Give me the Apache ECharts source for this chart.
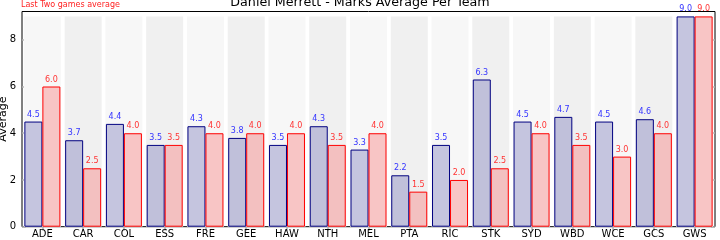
<!DOCTYPE html>
<html>
<head>
<meta charset="utf-8">
<script src="https://cdn.jsdelivr.net/npm/echarts@6/dist/echarts.min.js"></script>
<style>html,body{margin:0;padding:0;background:#fff}#c{width:720px;height:240px}</style>
</head>
<body>
<div id="c"></div>
<script>
const categories = ['ADE','CAR','COL','ESS','FRE','GEE','HAW','NTH','MEL','PTA','RIC','STK','SYD','WBD','WCE','GCS','GWS'];
const seasonAvg = [4.5,3.7,4.4,3.5,4.3,3.8,3.5,4.3,3.3,2.2,3.5,6.3,4.5,4.7,4.5,4.6,9.0];
const lastTwoAvg = [6.0,2.5,4.0,3.5,4.0,4.0,4.0,3.5,4.0,1.5,2.0,2.5,4.0,3.5,3.0,4.0,9.0];
const yTicks = [0,2,4,6,8];
const titleText = 'Daniel Merrett - Marks Average Per Team';
const noteText = 'Last Two games average';
const yName = 'Average';

const bandMax = Math.max(...seasonAvg, ...lastTwoAvg);
const bandData = categories.map((c,i)=>({value: bandMax, itemStyle:{color: i%2===0 ? '#f7f7f7' : '#f0f0f0'}}));

const font = 'DejaVu Sans';
const chart = echarts.init(document.getElementById('c'), null, {renderer:'canvas'});
const tickStyle = {show:true, inside:true, length:4, lineStyle:{color:'#b0b0b0', width:1.5}};
chart.setOption({
  animation:false,
  backgroundColor:'#fff',
  title:[
    {text:titleText, left:'center', top:-3.5, padding:0, textStyle:{fontFamily:font, fontSize:12.7, fontWeight:'normal', color:'#000'}},
    {text:noteText, left:21, top:1, padding:0, textStyle:{fontFamily:font, fontSize:8, fontWeight:'normal', color:'#ff2020'}}
  ],
  grid:{left:22, right:5, top:11.5, bottom:13.3, containLabel:false, outerBoundsMode:'none', show:true, borderColor:'#000', borderWidth:1, backgroundColor:'#fff'},
  xAxis:[
    {type:'category', data:categories, position:'bottom', axisLine:{show:false},
     axisTick:Object.assign({alignWithLabel:true}, tickStyle),
     axisLabel:{fontFamily:font, fontSize:10, color:'#000', margin:3}},
    {type:'category', data:categories, position:'top', axisLine:{show:false},
     axisTick:Object.assign({alignWithLabel:true}, tickStyle),
     axisLabel:{show:false}}
  ],
  yAxis:[
    {type:'value', min:0, max:9.21, interval:2, position:'left', axisLine:{show:false}, splitLine:{show:false},
     axisTick:Object.assign({customValues:yTicks}, tickStyle),
     axisLabel:{customValues:yTicks, fontFamily:font, fontSize:10, color:'#000', margin:6},
     name:yName, nameLocation:'middle', nameGap:13, nameRotate:90, nameMoveOverlap:false,
     nameTextStyle:{fontFamily:font, fontSize:11, color:'#000'}},
    {type:'value', min:0, max:9.21, interval:2, position:'right', axisLine:{show:false}, splitLine:{show:false},
     axisTick:Object.assign({customValues:yTicks}, tickStyle),
     axisLabel:{show:false}}
  ],
  series:[
    {type:'bar', xAxisIndex:1, yAxisIndex:0, data:bandData, barWidth:37, silent:true, z:1},
    {type:'bar', xAxisIndex:0, yAxisIndex:0, data:seasonAvg, barWidth:18, barGap:'0%', z:3,
     itemStyle:{color:'rgba(0,0,128,0.2)', borderColor:'#000080', borderWidth:1, borderRadius:0},
     label:{show:true, position:'top', distance:3, formatter:p=>p.value.toFixed(1), fontFamily:font, fontSize:8, color:'#3333ff'}},
    {type:'bar', xAxisIndex:0, yAxisIndex:0, data:lastTwoAvg, barWidth:18, barGap:'0%', z:3,
     itemStyle:{color:'rgba(255,0,0,0.2)', borderColor:'#ff0000', borderWidth:1, borderRadius:0},
     label:{show:true, position:'top', distance:3, formatter:p=>p.value.toFixed(1), fontFamily:font, fontSize:8, color:'#ff3333'}}
  ]
});
</script>
</body>
</html>
